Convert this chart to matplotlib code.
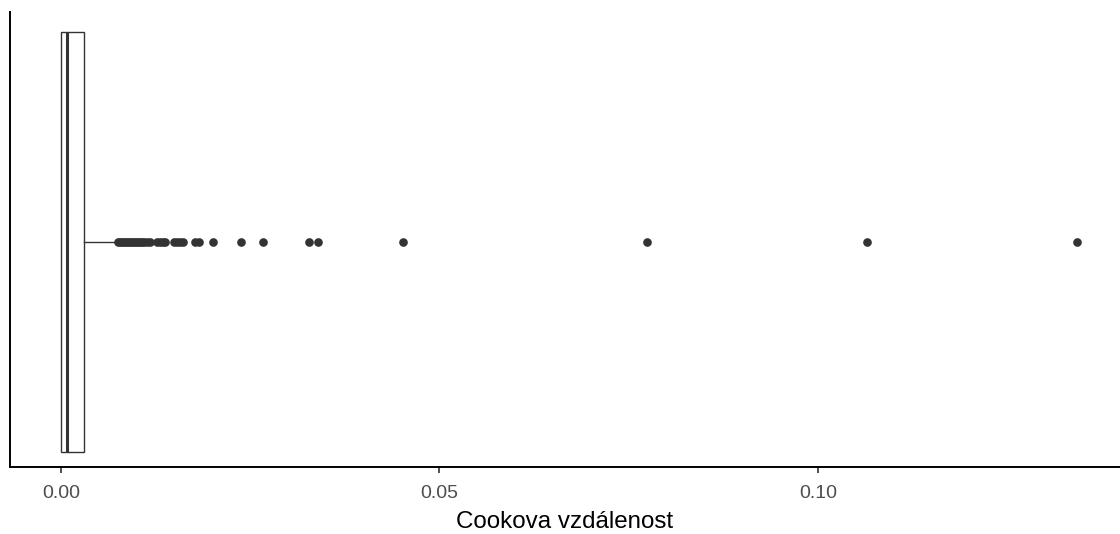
import matplotlib
matplotlib.use("Agg")
import matplotlib.pyplot as plt

plt.rcParams['font.family'] = ['Liberation Sans', 'DejaVu Sans']

# Box statistics (Cook's distance)
whisker_low = 0.0
q1 = 0.00005
median = 0.0008
q3 = 0.0031
whisker_high = 0.0073
outliers = [0.0075, 0.0078, 0.0080, 0.0083, 0.0086, 0.0088, 0.0091, 0.0094,
            0.0096, 0.0099, 0.0102, 0.0105, 0.0107, 0.0110, 0.0113, 0.0117,
            0.0127, 0.0131, 0.0135, 0.0138, 0.0149, 0.0153, 0.0157, 0.0161,
            0.0177, 0.0182, 0.0201, 0.0238, 0.0267, 0.0328, 0.0340, 0.0452,
            0.0774, 0.1065, 0.1342]
x_ticks = [0.00, 0.05, 0.10]
x_tick_labels = ["0.00", "0.05", "0.10"]
x_label = "Cookova vzdálenost"

fig = plt.figure(figsize=(11.2, 5.34), dpi=100)
ax = fig.add_axes([10/1120, 1 - 467/534, 1 - 10/1120, (467 - 12)/534])

stats = [dict(whislo=whisker_low, q1=q1, med=median, q3=q3, whishi=whisker_high,
              fliers=outliers)]
ax.bxp(stats, positions=[0], vert=False, widths=0.75, patch_artist=True,
       showcaps=False,
       boxprops=dict(facecolor='white', edgecolor='#333333', linewidth=1.0),
       medianprops=dict(color='#333333', linewidth=2.2),
       whiskerprops=dict(color='#333333', linewidth=1.0),
       flierprops=dict(marker='o', markersize=5.2, markerfacecolor='#333333',
                       markeredgecolor='#333333', linestyle='none'))

ax.set_xlim(-0.00674, 0.1399)
ax.set_ylim(-0.4015, 0.4105)
ax.set_xticks(x_ticks)
ax.set_xticklabels(x_tick_labels, fontsize=14, color='#4D4D4D')
ax.set_yticks([])
ax.tick_params(axis='x', length=4, width=1.2, color='#333333', pad=9)
ax.set_xlabel(x_label, fontsize=17.4, color='black', labelpad=6.5)

for s in ['top', 'right']:
    ax.spines[s].set_visible(False)
for s in ['left', 'bottom']:
    ax.spines[s].set_linewidth(1.4)
    ax.spines[s].set_color('black')

fig.savefig("out.png", dpi=100)
